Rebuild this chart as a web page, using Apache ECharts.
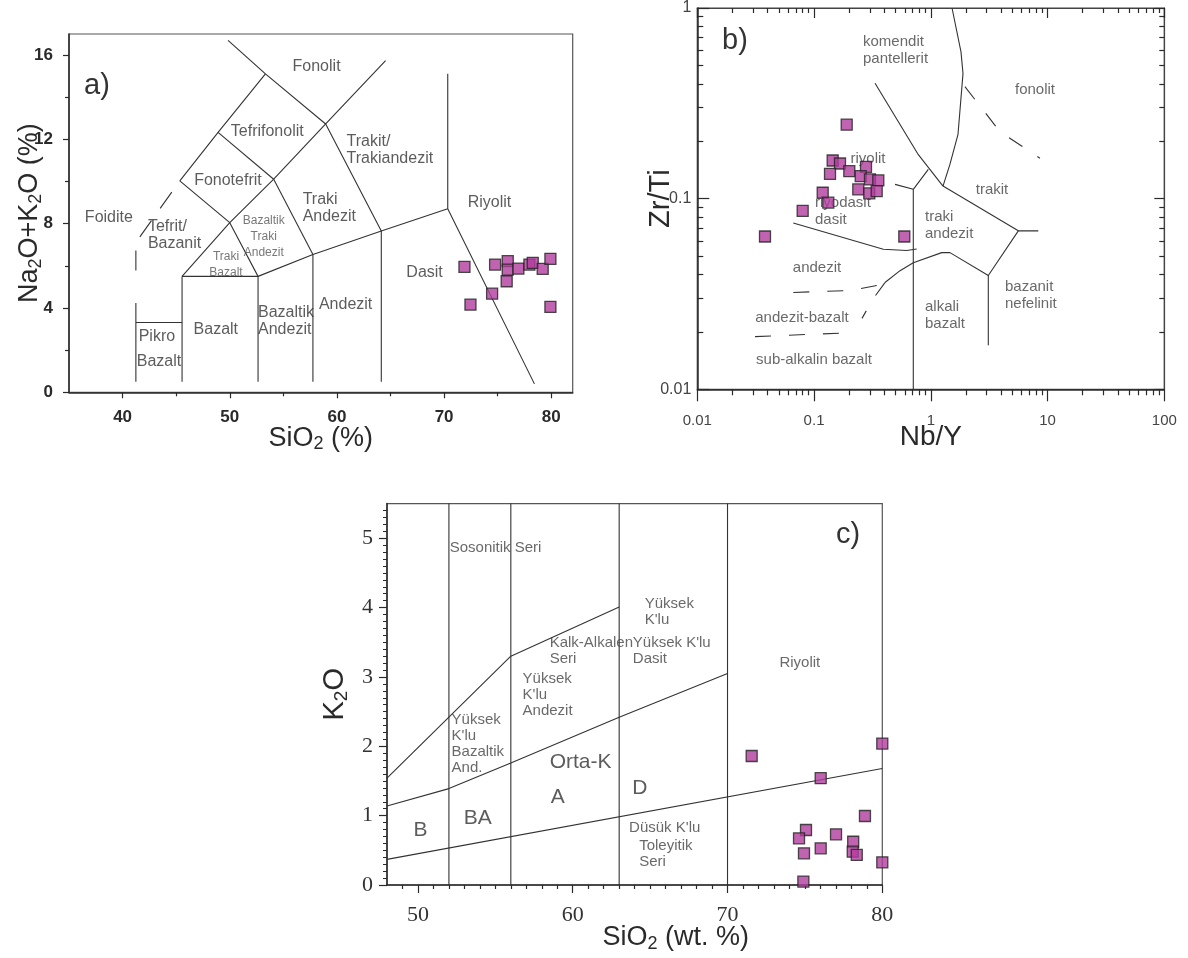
<!DOCTYPE html>
<html>
<head>
<meta charset="utf-8">
<script src="https://cdn.jsdelivr.net/npm/echarts@6.0.0/dist/echarts.min.js"></script>
<style>
html,body{margin:0;padding:0;background:#fff;}
#chart{width:1188px;height:958px;}
</style>
</head>
<body>
<div id="chart"></div>
<script>
// ================= Panel a) TAS (SiO2 vs Na2O+K2O) =================
const tasSamples = [
  [71.9,5.95],[72.46,4.16],[74.48,4.68],[74.76,6.06],[75.94,6.22],[75.94,5.82],
  [75.84,5.27],[76.93,5.87],[77.96,6.06],[78.27,6.14],[79.2,5.86],[79.92,6.33],[79.92,4.05]
];
const tasBoundaries = [
  [[49.84,16.7],[53.33,15.11],[58.95,12.73],[64.54,15.74]],
  [[53.33,15.11],[48.91,12.33],[45.34,10.03]],
  [[48.91,12.33],[54.10,10.11]],
  [[58.95,12.73],[54.10,10.11],[50.0,8.05],[45.55,5.5]],
  [[45.34,10.03],[50.0,8.05],[52.64,5.5]],
  [[54.10,10.11],[57.76,6.54]],
  [[58.95,12.73],[64.14,7.65],[70.34,8.71],[78.43,0.4]],
  [[45.55,5.5],[52.64,5.5],[57.76,6.54],[64.14,7.65]],
  [[70.34,8.71],[70.34,15.11]],
  [[45.55,0.5],[45.55,5.5]],
  [[52.64,0.5],[52.64,5.5]],
  [[57.76,0.5],[57.76,6.54]],
  [[64.14,0.5],[64.14,7.65]],
  [[41.24,0.5],[41.24,4.24]],
  [[41.24,3.31],[45.55,3.31]]
];
const tasDashed = [
  [[44.59,9.5],[41.24,7.11],[41.24,5.2]]
];
const tasLabels = [
  [58.1,15.44,'Fonolit','center'],
  [53.5,12.36,'Tefrifonolit','center'],
  [49.83,10.06,'Fonotefrit','center'],
  [38.72,8.30,'Foidite','center'],
  [42.36,7.45,'Tefrit/\nBazanit','left'],
  [56.8,8.75,'Traki\nAndezit','left'],
  [60.9,11.47,'Trakit/\nTrakiandezit','left'],
  [74.24,9.01,'Riyolit','center'],
  [68.18,5.68,'Dasit','center'],
  [60.81,4.16,'Andezit','center'],
  [52.64,3.4,'Bazaltik\nAndezit','left'],
  [48.7,2.97,'Bazalt','center'],
  [43.2,2.63,'Pikro','center'],
  [43.4,1.45,'Bazalt','center']
];
const tasSmallLabels = [
  [53.17,7.40,'Bazaltik\nTraki\nAndezit','center'],
  [49.65,6.06,'Traki\nBazalt','center']
];
const tasXTicks = [40,50,60,70,80];
const tasXMinor = [45,55,65,75];
const tasYTicks = [0,4,8,12,16];
const tasYMinor = [2,6,10,14];

// ================= Panel b) Nb/Y vs Zr/Ti =================
const wSamples = [
  [0.1904,0.2443],[0.1444,0.1585],[0.1668,0.1529],[0.1370,0.1349],[0.2004,0.1394],
  [0.2786,0.1468],[0.2510,0.1313],[0.3014,0.1262],[0.3551,0.1247],[0.2393,0.1119],
  [0.2972,0.1066],[0.3440,0.1096],[0.1186,0.1074],[0.1324,0.0953],[0.0799,0.0862],
  [0.0380,0.0633],[0.593,0.0633]
];
const wBoundaries = [
  [[0.333,0.4027],[0.782,0.17],[1.272,0.1164]],
  [[1.52,1.0],[1.814,0.589],[1.887,0.4525],[1.71,0.2175],[1.46,0.1517],[1.272,0.1164]],
  [[1.272,0.1164],[5.617,0.0678],[8.33,0.0678]],
  [[5.617,0.0678],[3.108,0.0395],[3.108,0.017]],
  [[3.108,0.0395],[1.46,0.0521],[1.24,0.0521],[0.708,0.0461],[0.545,0.0419],[0.405,0.0363]],
  [[0.708,0.1119],[0.708,0.01]],
  [[0.494,0.1188],[0.708,0.1119],[0.952,0.1423]],
  [[0.0664,0.0746],[0.392,0.0543],[0.622,0.0535],[0.757,0.0544]]
];
const wDashed = [
  [[1.96,0.387],[3.9,0.225],[8.6,0.163]],
  [[0.405,0.0363],[0.322,0.02996],[0.2574,0.02355]],
  [[0.0664,0.0322],[0.21,0.033],[0.419,0.0359]],
  [[0.0312,0.0189],[0.203,0.0198]]
];
const wLabels = [
  [0.2627,0.5965,'komendit\npantellerit','left'],
  [7.805,0.3733,'fonolit','center'],
  [3.344,0.1109,'trakit','center'],
  [0.892,0.072,'traki\nandezit','left'],
  [0.29,0.161,'riyolit','center'],
  [0.1019,0.0862,'riyodasit\ndasit','left'],
  [0.106,0.0435,'andezit','center'],
  [0.0788,0.02384,'andezit-bazalt','center'],
  [0.0999,0.01422,'sub-alkalin bazalt','center'],
  [0.892,0.0244,'alkali\nbazalt','left'],
  [4.32,0.031,'bazanit\nnefelinit','left']
];

// ================= Panel c) SiO2 vs K2O =================
const kSamples = [
  [80.0,2.04],[71.56,1.86],[76.02,1.54],[78.88,0.995],[75.07,0.793],[74.62,0.673],
  [77.01,0.731],[78.12,0.624],[76.02,0.529],[74.94,0.457],[78.09,0.48],[78.35,0.433],
  [80.0,0.327],[74.9,0.048]
];
const kBoundaries = [
  [[48,1.54],[52,2.42],[56,3.3],[63,4.01]],
  [[48,1.14],[52,1.39],[56,1.76],[63,2.42],[70,3.05]],
  [[48,0.37],[80,1.68]],
  [[52,0],[52,5.5]],
  [[56,0],[56,5.5]],
  [[63,0],[63,5.5]],
  [[70,0],[70,5.5]]
];
const kLabels = [
  [52.05,4.86,'Sosonitik Seri','left'],
  [64.65,3.94,'Yüksek\nK\'lu','left'],
  [58.51,3.37,'Kalk-Alkalen\nSeri','left'],
  [63.88,3.37,'Yüksek K\'lu\nDasit','left'],
  [56.76,2.74,'Yüksek\nK\'lu\nAndezit','left'],
  [52.17,2.03,'Yüksek\nK\'lu\nBazaltik\nAnd.','left'],
  [63.64,0.82,'Düsük K\'lu','left'],
  [64.29,0.447,'Toleyitik\nSeri','left'],
  [74.67,3.2,'Riyolit','center']
];
const kBigLabels = [
  [58.51,1.77,'Orta-K','left'],
  [50.17,0.79,'B','center'],
  [53.86,0.97,'BA','center'],
  [59.03,1.27,'A','center'],
  [64.33,1.40,'D','center']
];
const kXTicks = [50,60,70,80];
const kYTicks = [0,1,2,3,4,5];

// ---------- tick helpers (positions of minor ticks only) ----------
const kXMinor = [];
for (let v = 49; v < 80; v++) if (v % 10 !== 0) kXMinor.push(v);
const kYMinor = [];
for (let i = 1; i < 55; i++) if (i % 10 !== 0) kYMinor.push(i / 10);
const logMinorX = [], logMinorY = [];
for (let e = -2; e <= 1; e++) for (let m = 2; m <= 9; m++) {
  const v = Math.log10(m * Math.pow(10, e));
  logMinorX.push(v);
  if (e <= -1) logMinorY.push(v);
}

// ---------- styling ----------
const SANS = 'Liberation Sans, Arial, sans-serif';
const SERIF = 'Liberation Serif, Times New Roman, serif';
const INK = '#2a2a2a';
const lineCol = '#333';
const sampleStyle = {color:'#b03c9c', borderColor:'#222', borderWidth:1.3};

function subRich(size, color) {
  return {
    n: {fontSize:size, fontFamily:SANS, color:color},
    s: {fontSize:Math.round(size*0.65), fontFamily:SANS, color:color, padding:[Math.round(size*0.45),0,0,0]}
  };
}
function lineSeries(paths, xi, yi, dash, width) {
  return paths.map(p => ({
    type:'line', xAxisIndex:xi, yAxisIndex:yi, data:p, showSymbol:false, symbol:'none',
    silent:true, z:2, animation:false,
    lineStyle:{color:lineCol, width:width || 1.1, type: dash || 'solid'}
  }));
}
function labelSeries(items, xi, yi, style) {
  return {
    type:'scatter', xAxisIndex:xi, yAxisIndex:yi, symbolSize:1, silent:true, z:4, animation:false,
    itemStyle:{color:'rgba(0,0,0,0)'},
    data: items.map(d => ({value:[d[0], d[1]], name:d[2], label:{align:d[3]}})),
    label: Object.assign({show:true, position:'inside', formatter:'{b}', verticalAlign:'middle', fontFamily:SANS}, style)
  };
}
function hiddenAxis(o) {
  return Object.assign({
    splitLine:{show:false}, axisLine:{show:false, onZero:false},
    axisLabel:{show:false}, axisTick:{show:false}
  }, o);
}
const tickLS = {color:INK, width:1.2};
const axisLS = {color:INK, width:1.5};
const logFmt = v => String(+(+v).toPrecision(3));

const option = {
  animation:false,
  backgroundColor:'#fff',
  grid:[
    {left:69, top:34, width:503.7, height:358.3, show:true, borderColor:'#555', borderWidth:1.2},
    {left:697.3, top:6, width:467, height:383.3, show:true, borderColor:'#444', borderWidth:1.2},
    {left:387, top:503.6, width:495.3, height:381.4, show:true, borderColor:'#555', borderWidth:1.2}
  ],
  xAxis:[
    {gridIndex:0, type:'value', min:35, max:82, position:'bottom', splitLine:{show:false},
     axisLine:{show:true, onZero:false, lineStyle:axisLS},
     axisTick:{show:true, customValues:tasXTicks, length:6, lineStyle:tickLS},
     axisLabel:{show:true, customValues:tasXTicks, fontSize:17, fontWeight:'bold', color:INK, margin:17, fontFamily:SANS},
     name:'{n|SiO}{s|2}{n| (%)}', nameLocation:'middle', nameGap:31, nameMoveOverlap:false,
     nameTextStyle:{rich:subRich(27, INK)}},
    hiddenAxis({gridIndex:0, type:'value', min:35, max:82, position:'bottom',
     axisTick:{show:true, customValues:tasXMinor, length:4, lineStyle:tickLS}}),
    {gridIndex:1, type:'log', logBase:10, min:0.01, max:100, position:'bottom', splitLine:{show:false},
     axisLine:{show:true, onZero:false, lineStyle:axisLS},
     axisTick:{show:true, length:12, lineStyle:tickLS},
     axisLabel:{show:true, fontSize:15, color:'#444', margin:24, fontFamily:SANS, formatter:logFmt, showMinLabel:true, showMaxLabel:true},
     name:'Nb/Y', nameLocation:'middle', nameGap:34, nameMoveOverlap:false,
     nameTextStyle:{fontSize:28, fontFamily:SANS, color:INK}},
    hiddenAxis({gridIndex:1, type:'value', min:-2, max:2, position:'bottom',
     axisTick:{show:true, customValues:logMinorX, length:6, lineStyle:tickLS}}),
    {gridIndex:1, type:'log', logBase:10, min:0.01, max:100, position:'top', splitLine:{show:false},
     axisLine:{show:true, onZero:false, lineStyle:{color:'#444', width:1.2}},
     axisTick:{show:true, inside:true, length:10, lineStyle:tickLS}, axisLabel:{show:false}},
    hiddenAxis({gridIndex:1, type:'value', min:-2, max:2, position:'top',
     axisTick:{show:true, inside:true, customValues:logMinorX, length:5, lineStyle:tickLS}}),
    {gridIndex:2, type:'value', min:48, max:80, position:'bottom', splitLine:{show:false},
     axisLine:{show:true, onZero:false, lineStyle:axisLS},
     axisTick:{show:true, customValues:kXTicks, length:8, lineStyle:tickLS},
     axisLabel:{show:true, customValues:kXTicks, fontSize:22, color:'#333', margin:19, fontFamily:SERIF},
     name:'{n|SiO}{s|2}{n| (wt. %)}', nameLocation:'middle', nameGap:38, nameMoveOverlap:false,
     nameTextStyle:{rich:subRich(27, INK), padding:[0,0,0,82]}},
    hiddenAxis({gridIndex:2, type:'value', min:48, max:80, position:'bottom',
     axisTick:{show:true, customValues:kXMinor, length:4, lineStyle:tickLS}})
  ],
  yAxis:[
    {gridIndex:0, type:'value', min:0, max:17, position:'left', splitLine:{show:false},
     axisLine:{show:true, onZero:false, lineStyle:axisLS},
     axisTick:{show:true, customValues:tasYTicks, length:6, lineStyle:tickLS},
     axisLabel:{show:true, customValues:tasYTicks, fontSize:17, fontWeight:'bold', color:INK, margin:16, fontFamily:SANS},
     name:'{n|Na}{s|2}{n|O+K}{s|2}{n|O (%)}', nameLocation:'middle', nameGap:24, nameMoveOverlap:false,
     nameTextStyle:{rich:subRich(27, INK)}},
    hiddenAxis({gridIndex:0, type:'value', min:0, max:17, position:'left',
     axisTick:{show:true, customValues:tasYMinor, length:4, lineStyle:tickLS}}),
    {gridIndex:1, type:'log', logBase:10, min:0.01, max:1, position:'left', splitLine:{show:false},
     axisLine:{show:true, onZero:false, lineStyle:axisLS},
     axisTick:{show:true, inside:true, length:12, lineStyle:tickLS},
     axisLabel:{show:true, fontSize:16, color:'#444', margin:6, fontFamily:SANS, formatter:logFmt, showMinLabel:true, showMaxLabel:true},
     name:'Zr/Ti', nameLocation:'middle', nameGap:22, nameMoveOverlap:false,
     nameTextStyle:{fontSize:29, fontFamily:SANS, color:INK}},
    hiddenAxis({gridIndex:1, type:'value', min:-2, max:0, position:'left',
     axisTick:{show:true, inside:true, customValues:logMinorY, length:6, lineStyle:tickLS}}),
    {gridIndex:1, type:'log', logBase:10, min:0.01, max:1, position:'right', splitLine:{show:false},
     axisLine:{show:true, onZero:false, lineStyle:{color:'#444', width:1.2}},
     axisTick:{show:true, inside:true, length:10, lineStyle:tickLS}, axisLabel:{show:false}},
    hiddenAxis({gridIndex:1, type:'value', min:-2, max:0, position:'right',
     axisTick:{show:true, inside:true, customValues:logMinorY, length:5, lineStyle:tickLS}}),
    {gridIndex:2, type:'value', min:0, max:5.5, position:'left', splitLine:{show:false},
     axisLine:{show:true, onZero:false, lineStyle:axisLS},
     axisTick:{show:true, customValues:kYTicks, length:8, lineStyle:tickLS},
     axisLabel:{show:true, customValues:kYTicks, fontSize:22, color:'#333', margin:14, fontFamily:SERIF},
     name:'{n|K}{s|2}{n|O}', nameLocation:'middle', nameGap:36, nameMoveOverlap:false,
     nameTextStyle:{rich:subRich(29, INK)}},
    hiddenAxis({gridIndex:2, type:'value', min:0, max:5.5, position:'left',
     axisTick:{show:true, customValues:kYMinor, length:4, lineStyle:{color:INK, width:1}}})
  ],
  graphic:[
    {type:'text', left:84, top:71, style:{text:'a)', font:'29px Liberation Sans', fill:'#333'}},
    {type:'text', left:722, top:26, style:{text:'b)', font:'29px Liberation Sans', fill:'#333'}},
    {type:'text', left:836, top:520, style:{text:'c)', font:'29px Liberation Sans', fill:'#333'}}
  ],
  series:[]
};

// panel a
option.series.push(...lineSeries(tasBoundaries, 0, 0, null, 1.1));
option.series.push(...lineSeries(tasDashed, 0, 0, [20,15], 1.1));
option.series.push(labelSeries(tasLabels, 0, 0, {fontSize:16, color:'#333', lineHeight:17}));
option.series.push(labelSeries(tasSmallLabels, 0, 0, {fontSize:12, color:'#555', lineHeight:16}));
option.series.push({type:'scatter', xAxisIndex:0, yAxisIndex:0, data:tasSamples, symbol:'rect', symbolSize:11, itemStyle:sampleStyle, z:5, silent:true});

// panel b
option.series.push(...lineSeries(wBoundaries, 2, 2, null, 1.1));
option.series.push(...lineSeries(wDashed, 2, 2, [16,18], 1.1));
option.series.push(labelSeries(wLabels, 2, 2, {fontSize:15, color:'#444', lineHeight:17}));
option.series.push({type:'scatter', xAxisIndex:2, yAxisIndex:2, data:wSamples, symbol:'rect', symbolSize:11, itemStyle:sampleStyle, z:5, silent:true});

// panel c
option.series.push(...lineSeries(kBoundaries, 6, 6, null, 1.1));
option.series.push(labelSeries(kLabels, 6, 6, {fontSize:15, color:'#444', lineHeight:16}));
option.series.push(labelSeries(kBigLabels, 6, 6, {fontSize:21, color:'#333'}));
option.series.push({type:'scatter', xAxisIndex:6, yAxisIndex:6, data:kSamples, symbol:'rect', symbolSize:11, itemStyle:sampleStyle, z:5, silent:true});

const chart = echarts.init(document.getElementById('chart'), null, {renderer:'canvas'});
chart.setOption(option);
</script>
</body>
</html>
